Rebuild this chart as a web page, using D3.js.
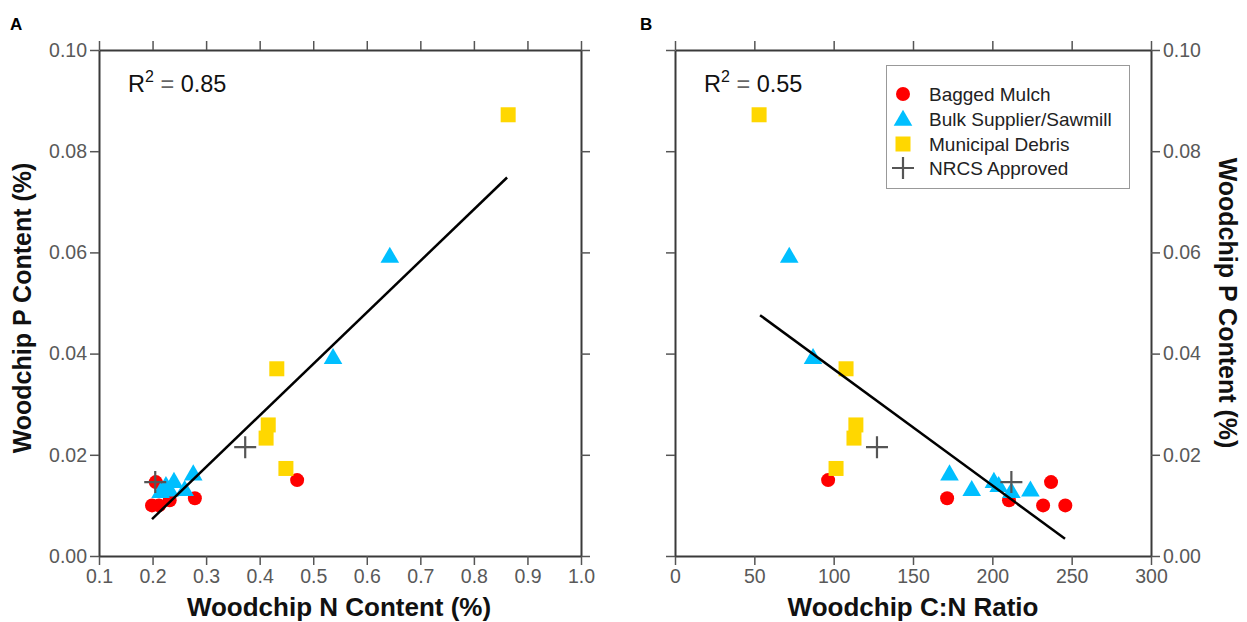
<!DOCTYPE html>
<html><head><meta charset="utf-8">
<script src="https://cdn.jsdelivr.net/npm/d3@7"></script>
<style>
body{margin:0;background:#fff;}
svg{display:block;font-family:"Liberation Sans",Arial,sans-serif;}
</style></head>
<body><svg id="c" width="1247" height="622"></svg>
<script>
// ---- data ----
const groupNames = ["Bagged Mulch","Bulk Supplier/Sawmill","Municipal Debris","NRCS Approved"];
const bagN  = [0.470, 0.206, 0.199, 0.212, 0.232, 0.279];
const bagCN = [96.5, 237, 232, 246, 210.5, 171.5];
const bagP  = [0.0150, 0.0146, 0.0100, 0.0100, 0.0110, 0.0114];
const bulkN  = [0.643, 0.537, 0.276, 0.240, 0.225, 0.260, 0.215, 0.232];
const bulkCN = [72, 87, 173, 201, 204, 187, 212, 224];
const bulkP  = [0.0593, 0.0393, 0.0163, 0.0148, 0.0140, 0.0132, 0.0128, 0.0131];
const muniN  = [0.864, 0.432, 0.416, 0.412, 0.449];
const muniCN = [53, 107.8, 114, 112.8, 101.5];
const muniP  = [0.0872, 0.0370, 0.0259, 0.0233, 0.0173];
const nrcsN  = [0.373, 0.205];
const nrcsCN = [127.3, 212];
const nrcsP  = [0.0215, 0.0146];
const fitAx = [0.199, 0.862], fitAy = [0.0073, 0.0748];
const fitBx = [53.6, 245.8],  fitBy = [0.0476, 0.0034];
const r2A = "0.85", r2B = "0.55";
const xTicksA = [0.1,0.2,0.3,0.4,0.5,0.6,0.7,0.8,0.9,1.0];
const xTicksB = [0,50,100,150,200,250,300];
const yTicks = [0,0.02,0.04,0.06,0.08,0.10];

const svg = d3.select("#c");
const colors = {bag:"#ff0000", bulk:"#00bfff", muni:"#ffd700", nrcs:"#555555"};
const plotTop=50, plotBottom=556;
const y = d3.scaleLinear().domain([0,0.10]).range([plotBottom, plotTop]);
const xA = d3.scaleLinear().domain([0.1,1.0]).range([99,581]);
const xB = d3.scaleLinear().domain([0,300]).range([675,1151]);

function styleAxis(g){
  g.select(".domain").attr("stroke","#3a3a3a").attr("stroke-width",2);
  g.selectAll(".tick line").attr("stroke","#555").attr("stroke-width",1.5);
  g.selectAll(".tick text").attr("fill","#595959").attr("font-size",19.5).attr("font-family","Liberation Sans, Arial, sans-serif");
}
function panel(x, xTicks, xFmt, labelLeft){
  const g = svg.append("g");
  const L = x.range()[0], R = x.range()[1];
  g.append("g").attr("transform",`translate(0,${plotBottom})`)
    .call(d3.axisBottom(x).tickValues(xTicks).tickFormat(d3.format(xFmt)).tickSize(9).tickSizeOuter(0).tickPadding(4))
    .call(styleAxis);
  g.append("g").attr("transform",`translate(0,${plotTop})`)
    .call(d3.axisTop(x).tickValues(xTicks).tickFormat("").tickSize(9).tickSizeOuter(0))
    .call(styleAxis);
  g.append("g").attr("transform",`translate(${L},0)`)
    .call(d3.axisLeft(y).tickValues(yTicks).tickFormat(labelLeft?d3.format(".2f"):"").tickSize(9).tickSizeOuter(0).tickPadding(3))
    .call(styleAxis);
  g.append("g").attr("transform",`translate(${R},0)`)
    .call(d3.axisRight(y).tickValues(yTicks).tickFormat(labelLeft?"":d3.format(".2f")).tickSize(9).tickSizeOuter(0).tickPadding(3))
    .call(styleAxis);
  return g;
}
function drawPoints(g, x, bagX, bulkX, muniX, nrcsX, fx, fy){
  const gp = g.append("g");
  gp.selectAll("circle").data(d3.range(bagX.length)).join("circle")
    .attr("cx",i=>x(bagX[i])).attr("cy",i=>y(bagP[i])).attr("r",7).attr("fill",colors.bag);
  const tri = d3.symbol().type(d3.symbolTriangle).size(150);
  gp.selectAll("path.tri").data(d3.range(bulkX.length)).join("path").attr("class","tri")
    .attr("d",tri).attr("transform",i=>`translate(${x(bulkX[i])},${y(bulkP[i])+1.5})`).attr("fill",colors.bulk);
  gp.selectAll("rect").data(d3.range(muniX.length)).join("rect")
    .attr("x",i=>x(muniX[i])-7.5).attr("y",i=>y(muniP[i])-7.5).attr("width",15).attr("height",15).attr("fill",colors.muni);
  gp.selectAll("path.plus").data(d3.range(nrcsX.length)).join("path").attr("class","plus")
    .attr("d",i=>{const cx=x(nrcsX[i]), cy=y(nrcsP[i]); return `M${cx-11},${cy}H${cx+11}M${cx},${cy-11}V${cy+11}`;})
    .attr("stroke",colors.nrcs).attr("stroke-width",2.2).attr("fill","none");
  g.append("line").attr("x1",x(fx[0])).attr("y1",y(fy[0])).attr("x2",x(fx[1])).attr("y2",y(fy[1]))
    .attr("stroke","#000").attr("stroke-width",2.5);
}
function r2(g, xpos, val){
  const t = g.append("text").attr("x",xpos).attr("y",92).attr("font-size",23.5).attr("fill","#111");
  t.append("tspan").text("R");
  t.append("tspan").attr("dy",-10).attr("font-size",16).text("2");
  t.append("tspan").attr("dy",10).attr("fill","#666").text(" = ");
  t.append("tspan").attr("fill","#111").text(val);
}

const gA = panel(xA, xTicksA, ".1f", true);
drawPoints(gA, xA, bagN, bulkN, muniN, nrcsN, fitAx, fitAy);
r2(gA, 128, r2A);
const gB = panel(xB, xTicksB, "d", false);
drawPoints(gB, xB, bagCN, bulkCN, muniCN, nrcsCN, fitBx, fitBy);
r2(gB, 704, r2B);

// titles
svg.append("text").attr("x",339).attr("y",616).attr("text-anchor","middle").attr("font-size",26).attr("font-weight","bold").attr("fill","#111").text("Woodchip N Content (%)");
svg.append("text").attr("x",913).attr("y",616).attr("text-anchor","middle").attr("font-size",26).attr("font-weight","bold").attr("fill","#111").text("Woodchip C:N Ratio");
svg.append("text").attr("transform","translate(31,308) rotate(-90)").attr("text-anchor","middle").attr("font-size",25).attr("font-weight","bold").attr("fill","#111").text("Woodchip P Content (%)");
svg.append("text").attr("transform","translate(1219,303) rotate(90)").attr("text-anchor","middle").attr("font-size",25).attr("font-weight","bold").attr("fill","#111").text("Woodchip P Content (%)");
svg.append("text").attr("x",10).attr("y",30).attr("font-size",17).attr("font-weight","bold").text("A");
svg.append("text").attr("x",640).attr("y",30).attr("font-size",17).attr("font-weight","bold").text("B");

// legend
const lg = svg.append("g");
lg.append("rect").attr("x",886.5).attr("y",65.5).attr("width",243).attr("height",123).attr("fill","#fff").attr("stroke","#999").attr("stroke-width",1);
const ly = [94, 119, 144, 168];
lg.append("circle").attr("cx",903).attr("cy",ly[0]).attr("r",7).attr("fill",colors.bag);
lg.append("path").attr("d",d3.symbol().type(d3.symbolTriangle).size(150)).attr("transform",`translate(903,${ly[1]+1.5})`).attr("fill",colors.bulk);
lg.append("rect").attr("x",895.5).attr("y",ly[2]-7.5).attr("width",15).attr("height",15).attr("fill",colors.muni);
lg.append("path").attr("d",`M892,${ly[3]}H914M903,${ly[3]-11}V${ly[3]+11}`).attr("stroke",colors.nrcs).attr("stroke-width",2.2);
lg.selectAll("text").data(groupNames).join("text").attr("x",929).attr("y",(d,i)=>ly[i]+7).attr("font-size",19).attr("fill","#222").text(d=>d);
</script></body></html>
